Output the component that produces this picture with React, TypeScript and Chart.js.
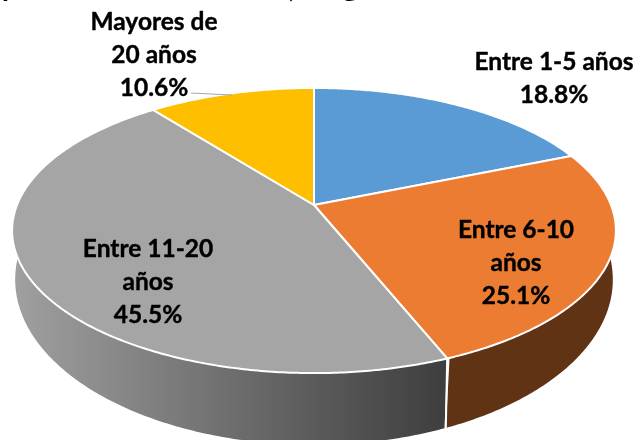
import React, { useEffect, useRef } from "react";
import { Chart, registerables } from "chart.js";

Chart.register(...registerables);

const categories = ["Entre 1-5 años", "Entre 6-10 años", "Entre 11-20 años", "Mayores de 20 años"];
const shares = [18.8, 25.1, 45.5, 10.6];
const sliceColors = ["#5B9BD5", "#EC7C31", "#A5A5A5", "#FDBF00"];
const labelLines = [
  ["Entre 1-5 años"],
  ["Entre 6-10", "años"],
  ["Entre 11-20", "años"],
  ["Mayores de", "20 años"],
];
// Only the descenders of a cropped title are visible at the top edge
const titleFragments = ["y", ",", "g"];

const FONT = 'bold 24.5px Lato, "Open Sans", sans-serif';
const TITLE_FONT = 'bold 30px Lato, "Open Sans", sans-serif';
const LABEL_CENTERS = [
  { x: 554, y: 70 },
  { x: 516, y: 238 },
  { x: 148, y: 257 },
  { x: 154, y: 30 },
];
const TITLE_POS = [
  { x: 8, y: -4 },
  { x: 292, y: -3 },
  { x: 350, y: -4 },
];
const LINE_H = 33;

// Perspective mapping of the pie's plane to the screen
const C = -0.179;
const topRim = (a: number) => {
  const u = Math.cos(a), v = Math.sin(a), d = 1 + C * v;
  return { x: 314 + (297 * u) / d, y: 205 + (138 * v) / d };
};
const lowRim = (a: number) => {
  const u = Math.cos(a), v = Math.sin(a), d = 1 + C * v;
  return { x: 314 + (294 * u) / d, y: 250 + (160 * v) / d };
};

const pie3d = {
  id: "pie3d",
  beforeDatasetDraw(chart: any) {
    const ctx: CanvasRenderingContext2D = chart.ctx;
    const arcs = chart.getDatasetMeta(0).data;
    const wallFill = (i: number) => {
      if (i === 1) return "#5F3314";
      if (i === 2) {
        const g = ctx.createLinearGradient(14, 0, 447, 0);
        g.addColorStop(0, "#A0A0A0");
        g.addColorStop(0.7, "#5A5A5A");
        g.addColorStop(1, "#3E3E3E");
        return g;
      }
      return sliceColors[i];
    };
    // side wall
    const STEP = 0.01;
    arcs.forEach((arc: any, i: number) => {
      const from = Math.max(arc.startAngle, -0.25);
      const to = Math.min(arc.endAngle, Math.PI + 0.25);
      if (to <= from) return;
      ctx.fillStyle = wallFill(i);
      ctx.beginPath();
      for (let a = from; a < to; a += STEP) {
        const p = topRim(a);
        ctx.lineTo(p.x, p.y);
      }
      for (let a = to; a > from; a -= STEP) {
        const p = lowRim(a);
        ctx.lineTo(p.x, p.y);
      }
      ctx.closePath();
      ctx.fill();
    });
    // seam on the wall at each visible slice boundary
    arcs.forEach((arc: any) => {
      const a = arc.startAngle;
      if (a > 0.3 && a < Math.PI - 0.3) {
        const p = topRim(a), q = lowRim(a);
        ctx.strokeStyle = "#FFFFFF";
        ctx.lineWidth = 2;
        ctx.beginPath();
        ctx.moveTo(p.x, p.y);
        ctx.lineTo(q.x, q.y);
        ctx.stroke();
      }
    });
    // top surface
    arcs.forEach((arc: any, i: number) => {
      ctx.fillStyle = sliceColors[i];
      ctx.strokeStyle = "#FFFFFF";
      ctx.lineWidth = 2;
      ctx.lineJoin = "round";
      ctx.beginPath();
      ctx.moveTo(314, 205);
      for (let a = arc.startAngle; a < arc.endAngle; a += STEP) {
        const p = topRim(a);
        ctx.lineTo(p.x, p.y);
      }
      const e = topRim(arc.endAngle);
      ctx.lineTo(e.x, e.y);
      ctx.closePath();
      ctx.fill();
      ctx.stroke();
    });
    return false;
  },
  afterDatasetsDraw(chart: any) {
    const ctx: CanvasRenderingContext2D = chart.ctx;
    ctx.save();
    // leader line
    ctx.strokeStyle = "#A6A6A6";
    ctx.lineWidth = 1.2;
    ctx.beginPath();
    ctx.moveTo(191, 93);
    ctx.lineTo(232, 95);
    ctx.stroke();
    // labels
    ctx.font = FONT;
    ctx.fillStyle = "#000000";
    ctx.strokeStyle = "#000000";
    ctx.lineWidth = 0.4;
    ctx.textAlign = "center";
    ctx.textBaseline = "alphabetic";
    shares.forEach((s, i) => {
      const c = LABEL_CENTERS[i];
      const lines = [...labelLines[i], `${s.toFixed(1)}%`];
      lines.forEach((t, k) => {
        ctx.fillText(t, c.x, c.y + k * LINE_H);
        ctx.strokeText(t, c.x, c.y + k * LINE_H);
      });
    });
    // cropped title remnants
    ctx.font = TITLE_FONT;
    titleFragments.forEach((t, i) => ctx.fillText(t, TITLE_POS[i].x, TITLE_POS[i].y));
    ctx.restore();
  },
};

export default function App() {
  const ref = useRef<HTMLCanvasElement>(null);
  useEffect(() => {
    document.body.style.margin = "0";
    const chart = new Chart(ref.current!, {
      type: "pie",
      data: {
        labels: categories,
        datasets: [{ data: shares, backgroundColor: sliceColors, borderColor: "#FFFFFF" }],
      },
      options: {
        responsive: false,
        animation: false,
        plugins: { legend: { display: false }, tooltip: { enabled: false } },
      },
      plugins: [pie3d],
    } as any);
    return () => chart.destroy();
  }, []);
  return <canvas ref={ref} width={636} height={440} style={{ display: "block" }} />;
}
